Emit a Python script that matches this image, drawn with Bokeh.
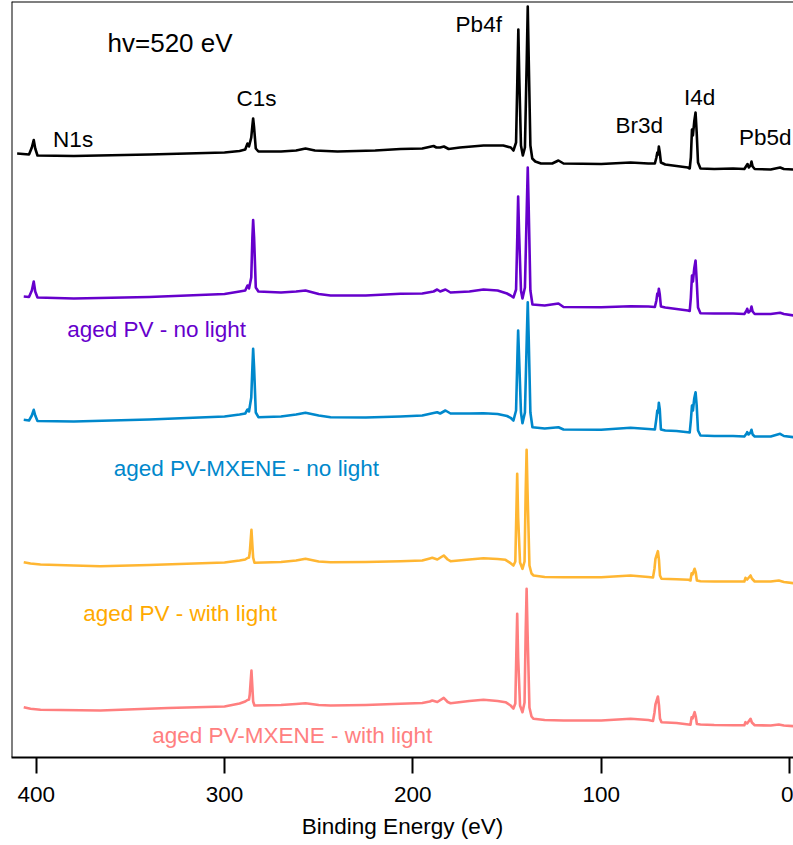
from bokeh.plotting import figure
from bokeh.models import Range1d, Span, Label, FixedTicker
from bokeh.embed import file_html
from bokeh.resources import INLINE

# Binding energy (eV), intensity (arb. units, stacked)
black_pts = [
    (410.1, 604), (403.8, 603), (402.3, 610), (401.3, 617.5), (400.5, 609), (399.3, 602),
    (380, 601.5), (340, 603), (300, 605), (292, 606.5), (289, 608), (287.8, 614), (287.0, 611),
    (285.8, 620), (285.2, 632), (284.8, 639), (284.3, 630), (283.4, 609), (282.0, 606),
    (270, 606), (262, 607), (257, 609), (252, 607), (240, 606), (220, 607), (206.6, 608.5),
    (195, 609), (189, 611.5), (187.5, 610), (185.5, 610), (183.5, 611), (181, 608.5), (175, 610),
    (162.5, 612), (152, 612), (148, 610),
    (146.6, 607), (145.2, 615), (144.5, 680), (144.0, 728), (143.5, 680), (142.6, 612), (141.6, 602),
    (140.5, 610), (139.5, 700), (139.0, 751), (138.5, 700), (137.6, 612), (136.6, 599),
    (135, 596), (132, 594), (126, 594), (122.7, 597), (120, 594), (100, 593.5), (84.4, 595), (75, 594),
    (71.5, 594), (70.7, 600), (70.2, 605), (69.8, 603), (69.4, 611), (68.9, 605), (68.3, 595), (66, 593),
    (60, 591.5), (54, 590), (53, 589), (52.4, 600), (51.8, 628), (51.3, 622), (50.6, 636), (49.9, 645),
    (49.3, 625), (48.6, 595), (47.3, 589),
    (40, 588.5), (30, 589), (24, 588.5), (22.8, 592), (22.3, 593.5), (21.6, 590), (20.7, 592),
    (20.2, 596), (19.6, 591), (18.5, 588.5), (10, 588), (5, 590), (3, 588.5), (-2.1, 588),
]

purple_pts = [
    (406.6, 461), (403.8, 460.5), (402.3, 467), (401.3, 476), (400.5, 466), (399.3, 460),
    (380, 459), (340, 460.5), (300, 463.5), (292, 466), (289, 467), (287.8, 472), (287.0, 469),
    (285.8, 480), (285.2, 520), (284.8, 537.5), (284.3, 520), (283.4, 470), (282.0, 466),
    (270, 465), (262, 466), (257, 467), (250, 463.5), (243.7, 462), (225, 462), (206.6, 463.7),
    (195, 464), (189, 466), (187.1, 468), (185.5, 466), (182.7, 468), (180, 465), (170, 466),
    (162.5, 468), (155, 467), (150, 464), (148.1, 462),
    (146.6, 460), (145.2, 468), (144.5, 525), (144.1, 561), (143.6, 525), (142.6, 467), (141.8, 459),
    (140.5, 470), (139.5, 550), (139.0, 590), (138.5, 550), (137.6, 467), (136.5, 453),
    (130, 452), (122.7, 454), (120, 450.5), (100, 450.3), (84.4, 451.3), (75, 451),
    (71.5, 450.5), (70.7, 457), (70.2, 464), (69.8, 462), (69.4, 468.7), (68.9, 463), (68.3, 451), (66, 450),
    (60, 448.5), (54, 447), (53, 446.5), (52.4, 460), (51.8, 482), (51.3, 476), (50.6, 489), (49.9, 497),
    (49.3, 477), (48.6, 450), (47.3, 444.3),
    (40, 444), (30, 444), (24, 443.5), (22.8, 447), (22.5, 448.7), (21.8, 445), (20.7, 447),
    (20.2, 451), (19.6, 446), (18.5, 443.5), (10, 443.5), (5, 444.7), (3, 443.5), (-2.1, 442),
]

blue_pts = [
    (406.6, 337.7), (403.8, 337), (402.3, 342), (401.3, 347.7), (400.5, 342), (399.3, 336.5),
    (380, 336), (340, 338), (300, 341), (292, 343), (289, 344), (287.8, 348), (287.0, 346),
    (285.8, 360), (285.2, 390), (284.8, 408.7), (284.3, 390), (283.4, 345), (282.0, 340.3),
    (270, 341), (262, 343), (257, 344.7), (250, 342), (243.7, 340.3), (225, 340), (206.6, 341),
    (195, 342), (189, 344.5), (187.1, 345.3), (185.5, 344), (182.7, 347), (180, 344), (170, 344),
    (162.5, 344.3), (155, 343.5), (150, 341.5), (148.1, 339.7),
    (146.6, 337), (145.2, 347), (144.5, 400), (144.1, 427), (143.6, 400), (142.6, 345), (141.8, 334.3),
    (140.5, 345), (139.5, 420), (139.0, 455.3), (138.5, 420), (137.6, 345), (136.5, 330.3),
    (130, 329), (122.7, 330.3), (120, 328), (100, 327.7), (84.4, 329.7), (75, 328.5),
    (71.5, 328), (70.7, 339), (70.2, 347), (69.8, 345), (69.4, 354.7), (68.9, 348), (68.3, 328), (66, 327),
    (60, 326.5), (54, 325.3), (53, 325), (52.4, 337), (51.8, 352), (51.3, 347), (50.6, 359), (49.9, 365.3),
    (49.3, 352), (48.6, 327), (47.3, 322),
    (40, 321.5), (30, 321.5), (24, 321), (22.8, 324), (22.5, 325.3), (21.8, 323), (20.7, 325),
    (20.2, 327.7), (19.6, 323), (18.5, 321), (10, 321), (5, 323.7), (3, 321.5), (-2.1, 320.3),
]

yellow_pts = [
    (406.6, 195.3), (403, 194), (397.7, 193), (380, 192), (365.9, 191.3), (340, 192.5), (300, 195),
    (292, 197), (289, 198), (287.8, 199.5), (287.0, 200), (286.6, 205), (286.2, 215), (285.7, 227.7),
    (285.2, 212), (284.8, 200), (284.1, 194.7),
    (270, 195.5), (262, 197), (257, 198.7), (250, 196), (243.7, 195.3), (225, 195.5), (206.6, 196.3),
    (195, 197), (191, 199), (189.7, 199.7), (187, 198), (183.6, 202), (181.5, 198), (180, 196.3),
    (170, 198), (162.5, 199.3), (155, 198.5), (150.8, 197.7), (148.1, 194.3),
    (146.6, 192), (145.6, 196), (145.1, 240), (144.6, 283.7), (144.1, 240), (143.1, 195), (141.8, 188.7),
    (140.7, 196), (140.1, 265), (139.6, 307.7), (139.1, 265), (138.1, 192), (137.0, 184), (135.9, 182),
    (130, 180.5), (120, 180.3), (100, 180.3), (84.4, 182), (75, 180.5),
    (72.5, 180), (71.7, 189), (71.2, 198.7), (69.9, 206.3), (69.3, 197), (68.8, 182), (68.0, 178.7),
    (60, 178.2), (53.6, 177.7), (52.6, 177), (52.0, 184.3), (51.5, 183), (50.4, 188.7), (49.8, 185),
    (49.2, 177), (47.3, 176.3),
    (40, 176), (30, 176), (24, 176), (23.4, 179.7), (22.5, 178), (20.7, 182), (20.0, 179), (18.5, 176),
    (10, 176), (5.7, 177), (3, 175.5), (-2.1, 174.3),
]

pink_pts = [
    (406.6, 50.3), (403, 48.7), (397.7, 47.7), (365.9, 47), (330, 49.5), (300, 51),
    (292, 54), (289, 56), (287.8, 57.5), (287.0, 58), (286.6, 63), (286.2, 74), (285.7, 87),
    (285.2, 70), (284.8, 56), (284.1, 52),
    (270, 52.5), (262, 53.5), (257, 54.3), (250, 52.5), (243.7, 52), (225, 52.5), (206.6, 53.7),
    (195, 54.5), (191, 56), (189.7, 57), (187, 55.5), (183.6, 59.7), (181.5, 55.5), (180, 54.3),
    (170, 56.5), (162.5, 57.7), (155, 56.5), (150.8, 55.3), (148.1, 52),
    (146.6, 49), (145.6, 54), (145.1, 100), (144.6, 143.7), (144.1, 100), (143.1, 52), (141.8, 45.3),
    (140.7, 55), (140.1, 125), (139.6, 168.7), (139.1, 125), (138.1, 50), (137.0, 41), (135.9, 38.7),
    (130, 37.5), (120, 37), (100, 37), (84.4, 38.7), (75, 37.5),
    (72.5, 36.5), (71.7, 45), (71.2, 53), (69.9, 61), (69.3, 52), (68.8, 39), (68.0, 35.3),
    (60, 34.5), (53.6, 33), (52.6, 32.8), (52.0, 40.3), (51.5, 39), (50.4, 45.3), (49.8, 41),
    (49.2, 33.5), (47.3, 33),
    (40, 32.5), (30, 32.3), (24, 32.3), (23.4, 35.3), (22.5, 34), (20.7, 38.7), (20.0, 35), (18.5, 32.3),
    (10, 32), (5.7, 33), (3, 32), (-2.1, 31.3),
]

series_names = ["reference", "aged PV - no light", "aged PV-MXENE - no light",
                "aged PV -  with light", "aged PV-MXENE - with light"]
x_ticks = [0, 100, 200, 300, 400]

FONT = "Liberation Sans"

p = figure(width=793, height=845, x_range=Range1d(413.1, -2.1), y_range=Range1d(0, 756),
           output_backend="svg", toolbar_location=None, y_axis_location=None,
           min_border_left=11, min_border_right=0, min_border_top=1, min_border_bottom=88)
p.outline_line_color = None
p.grid.visible = False
p.background_fill_color = "white"
p.border_fill_color = "white"

line_colors = ["#000000", "#6600CC", "#0088CC", "#FFB632", "#FF7F7F"]
for pts, col in zip([black_pts, purple_pts, blue_pts, yellow_pts, pink_pts], line_colors):
    xs = [a for a, b in pts]
    ys = [b for a, b in pts]
    p.line(xs, ys, line_color=col, line_width=2.6, line_join="round")

# frame lines (left, top)
p.add_layout(Span(location=413.1, dimension="height", line_color="black", line_width=2))
p.add_layout(Span(location=756, dimension="width", line_color="black", line_width=2))

ax = p.xaxis[0]
ax.ticker = FixedTicker(ticks=x_ticks)
ax.major_tick_out = 16
ax.major_tick_in = 0
ax.minor_tick_out = 0
ax.minor_tick_in = 0
ax.axis_line_width = 2
ax.major_tick_line_width = 2
ax.major_label_text_font = FONT
ax.major_label_text_font_size = "22.5px"
ax.major_label_text_color = "black"
ax.major_label_standoff = 13
ax.axis_label = "Binding Energy (eV)"
ax.axis_label_text_font = FONT
ax.axis_label_text_font_size = "22.5px"
ax.axis_label_text_font_style = "normal"
ax.axis_label_text_color = "black"
ax.axis_label_standoff = 9

annotations = [
    ("hv=520 eV", 362.1, 714.3, "black", "26px"),
    ("N1s", 391.0, 617.7, "black", "22.5px"),
    ("C1s", 293.6, 659.0, "black", "22.5px"),
    ("Pb4f", 177.3, 732.7, "black", "22.5px"),
    ("Br3d", 92.4, 632.3, "black", "22.5px"),
    ("I4d", 56.1, 660.0, "black", "22.5px"),
    ("Pb5d", 26.9, 620.0, "black", "22.5px"),
    (series_names[1], 383.5, 428.0, "#6600CC", "22.5px"),
    (series_names[2], 358.8, 289.0, "#0088CC", "22.5px"),
    (series_names[3], 375.0, 144.3, "#FFAA00", "22.5px"),
    (series_names[4], 338.4, 22.3, "#FF8080", "22.5px"),
]
for txt, x, y, col, fs in annotations:
    p.add_layout(Label(x=x, y=y, text=txt, text_color=col, text_font=FONT,
                       text_font_size=fs, text_align="left", text_baseline="alphabetic"))

open("out.html", "w").write(file_html(p, INLINE))
